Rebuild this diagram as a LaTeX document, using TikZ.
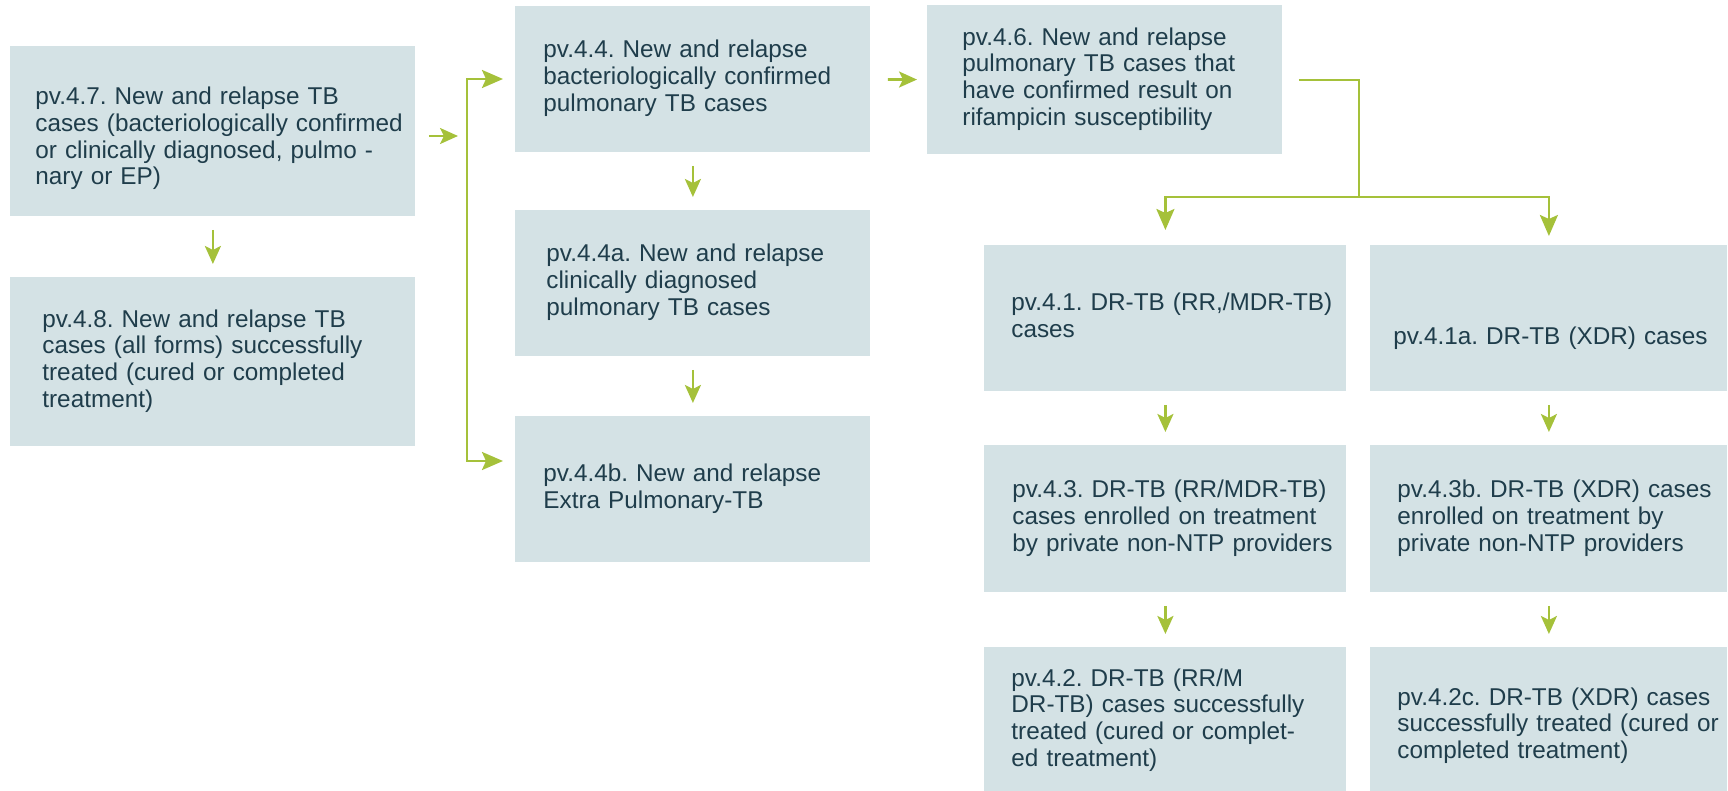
\documentclass[tikz,border=0pt]{standalone}
\usepackage{fontspec}
\setmainfont{Liberation Sans}
\usepackage{tikz}
\usetikzlibrary{arrows.meta}
\definecolor{boxfill}{HTML}{D4E2E5}
\definecolor{ink}{HTML}{1F3D4B}
\definecolor{leaf}{HTML}{A5C13A}
\newcommand{\rows}[1]{\begin{tabular}{@{}l@{}}#1\end{tabular}}
\hfuzz=200pt
\hbadness=10000
\frenchspacing

\begin{document}
\begin{tikzpicture}[x=0.5pt,y=-0.5pt]
	\tikzstyle{box}=[fill=boxfill,text=ink,align=left,anchor=north west,inner ysep=0pt,font=\fontsize{12.15pt}{13.4pt}\selectfont]
	\tikzstyle{arr}=[color=leaf,line width=1.3pt,-{Stealth[length=9pt,width=8pt,inset=2pt]},shorten <=6.5pt,shorten >=6.5pt]
	\tikzstyle{bigarr}=[color=leaf,line width=1.3pt,-{Stealth[length=10.5pt,width=9pt,inset=2pt]}]
	\tikzstyle{wire}=[color=leaf,line width=1.3pt]
	\useasboundingbox (0,0) rectangle (1728,791);
	\clip (0,0) rectangle (1728,791);

	\node[box,minimum height=85pt,text width=177.5pt,inner xsep=12.5pt](n47) at (10,46){\rows{\rule{0pt}{17.4pt}pv.4.7. New and relapse TB\\cases (bacteriologically confirmed\\or clinically diagnosed, pulmo -\\nary or EP)}};
	\node[box,minimum height=84.5pt,text width=170.5pt,inner xsep=16pt](n48) at (10,277){\rows{pv.4.8. New and relapse TB\\cases (all forms) successfully\\treated (cured or completed\\treatment)}};

	\node[box,minimum height=73.25pt,text width=149.5pt,inner xsep=14pt](n44) at (515,5.5){\rows{pv.4.4. New and relapse\\bacteriologically confirmed\\pulmonary TB cases}};
	\node[box,minimum height=73pt,text width=146.5pt,inner xsep=15.5pt](n44a) at (515,210){\rows{pv.4.4a. New and relapse\\clinically diagnosed\\pulmonary TB cases}};
	\node[box,minimum height=73pt,text width=149.5pt,inner xsep=14pt](n44b) at (515,416){\rows{pv.4.4b. New and relapse\\Extra Pulmonary-TB}};

	\node[box,minimum height=74.5pt,text width=142.5pt,inner xsep=17.5pt](n46) at (927,5){\rows{pv.4.6. New and relapse\\pulmonary TB cases that\\have confirmed result on\\rifampicin susceptibility}};

	\node[box,minimum height=73pt,text width=154pt,inner xsep=13.5pt](n41) at (984,245){\rows{pv.4.1. DR-TB (RR,/MDR-TB)\\cases}};
	\node[box,minimum height=73pt,text width=155.5pt,inner xsep=11.5pt](n41a) at (1370,245){\rows{\rule{0pt}{30pt}pv.4.1a. DR-TB (XDR) cases}};
	\node[box,minimum height=73.5pt,text width=153pt,inner xsep=14pt](n43) at (984,445){\rows{pv.4.3. DR-TB (RR/MDR-TB)\\cases enrolled on treatment\\by private non-NTP providers}};
	\node[box,minimum height=73.5pt,text width=151.5pt,inner xsep=13.5pt](n43b) at (1370,445){\rows{pv.4.3b. DR-TB (XDR) cases\\enrolled on treatment by\\private non-NTP providers}};
	\node[box,minimum height=73.5pt,text width=154pt,inner xsep=13.5pt](n42) at (984,647){\rows{pv.4.2. DR-TB (RR/M\\DR-TB) cases successfully\\treated (cured or complet-\\ed treatment)}};
	\node[box,minimum height=73.5pt,text width=151.5pt,inner xsep=13.5pt](n42c) at (1370,647){\rows{\rule{0pt}{15pt}pv.4.2c. DR-TB (XDR) cases\\successfully treated (cured or\\completed treatment)}};

	\coordinate (bt) at (467,79);
	\coordinate (bb) at (467,461);
	\coordinate (jn) at (467,136);
	\coordinate (split) at (1359,197);

	\path[arr]
		(n47) edge (n48)
		(n44) edge (n44a)
		(n44a) edge (n44b)
		(n44) edge[shorten <=8.5pt,shorten >=5pt] (n46)
		(n41) edge (n43)
		(n41a) edge (n43b)
		(n43) edge (n42)
		(n43b) edge (n42c);
	\draw[arr,shorten >=4.5pt] (n47.east |- jn) -- (jn);
	\draw[wire,{Stealth[length=10.5pt,width=9pt,inset=2pt]}-{Stealth[length=10.5pt,width=9pt,inset=2pt]},shorten <=6pt,shorten >=6pt] (bt -| n44.west) -- (bt) -- (bb) -- (bb -| n44b.west);
	\draw[wire,shorten <=8pt] (n46.east) -| (split);
	\draw[bigarr,shorten >=7.5pt] (split) -| (n41.north);
	\draw[bigarr,shorten >=4.5pt] (split) -| (n41a.north);
\end{tikzpicture}
\end{document}
